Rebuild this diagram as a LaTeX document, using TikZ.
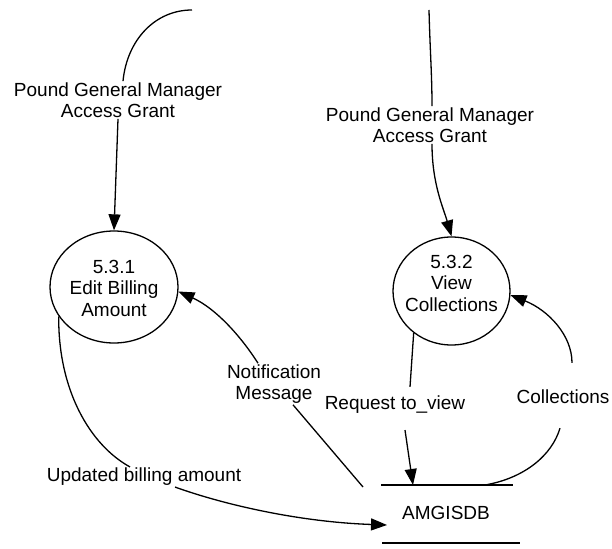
\documentclass[tikz,border=0pt]{standalone}
\usepackage{fontspec}
\setmainfont{Liberation Sans}
\usetikzlibrary{arrows.meta,shapes.geometric}
\begin{document}
\begin{tikzpicture}[x=1pt,y=-1pt,
  every node/.style={font=\fontsize{19}{21.5}\selectfont, align=center, inner sep=1pt},
  proc/.style={ellipse, draw, line width=1.3pt, inner sep=0pt},
  flow/.style={line width=1.3pt},
  arr/.style={flow, -{Triangle[length=16pt,width=12pt]}}]
\useasboundingbox (0,0) rectangle (612,548);
% processes
\node[proc, minimum width=128pt, minimum height=112pt] (c1) at (114,287) {};
\node (t1) at (114,288) {5.3.1\\Edit Billing\\Amount};
\node[proc, minimum width=117pt, minimum height=108pt] (c2) at (451.5,291) {};
\node (t2) at (451.5,283) {5.3.2\\View\\Collections};
% labels
\node (l1) at (118,100) {Pound General Manager\\Access Grant};
\node (l2) at (430,125) {Pound General Manager\\Access Grant};
\node (l3) at (274,384) {Notification\\Message};
\node (l4) at (395,405) {Request to\_view};
\node (l5) at (563,397) {Collections};
\node (l6) at (144,477) {Updated billing amount};
% data store
\node (db) at (446,513) {AMGISDB};
\coordinate (dbtl) at (381,485);
\coordinate (dbtr) at (513,485);
\coordinate (dbbl) at (382,543);
\coordinate (dbbr) at (520,543);
\draw[flow] (dbtl) -- (dbtr);
\draw[flow] (dbbl) -- (dbbr);
% free ends
\coordinate (s1) at (192,10);
\coordinate (s2) at (429,10);
\coordinate (n0) at (363,487);
\coordinate (r1) at (413,485);
\coordinate (k0) at (485,485);
\coordinate (u1) at (387,525);
% flows
\draw[flow] (s1) .. controls (155,10) and (127,40) .. ([xshift=5pt]l1.north);
\draw[arr] (l1.south) -- (c1.north);
\draw[flow] (s2) .. controls (430,50) and (432,75) .. ([xshift=2pt]l2.north);
\draw[arr] ([xshift=2pt]l2.south) .. controls +(0,40) and +(-8,-28) .. (c2.north);
\draw[arr] ([xshift=-16pt]l3.north) .. controls (240,335) and (215,308) .. (c1.-4);
\draw[flow] ([xshift=19pt]l3.south) -- (n0);
\draw[flow] (c1.208) .. controls (58,390) and (90,445) .. ([xshift=-14pt]l6.north);
\draw[arr] ([xshift=31pt]l6.south) .. controls (225,505) and (300,522) .. (u1);
\draw[flow] (c2.228) -- ([xshift=15pt,yshift=8pt]l4.north);
\draw[arr] ([xshift=10pt,yshift=-15pt]l4.south) -- (r1);
\draw[flow] (k0) .. controls (525,478) and (552,455) .. ([xshift=-3pt,yshift=-23pt]l5.south);
\draw[arr] ([xshift=9pt,yshift=26pt]l5.north) .. controls (572,335) and (548,310) .. (c2.-4);
\end{tikzpicture}
\end{document}
